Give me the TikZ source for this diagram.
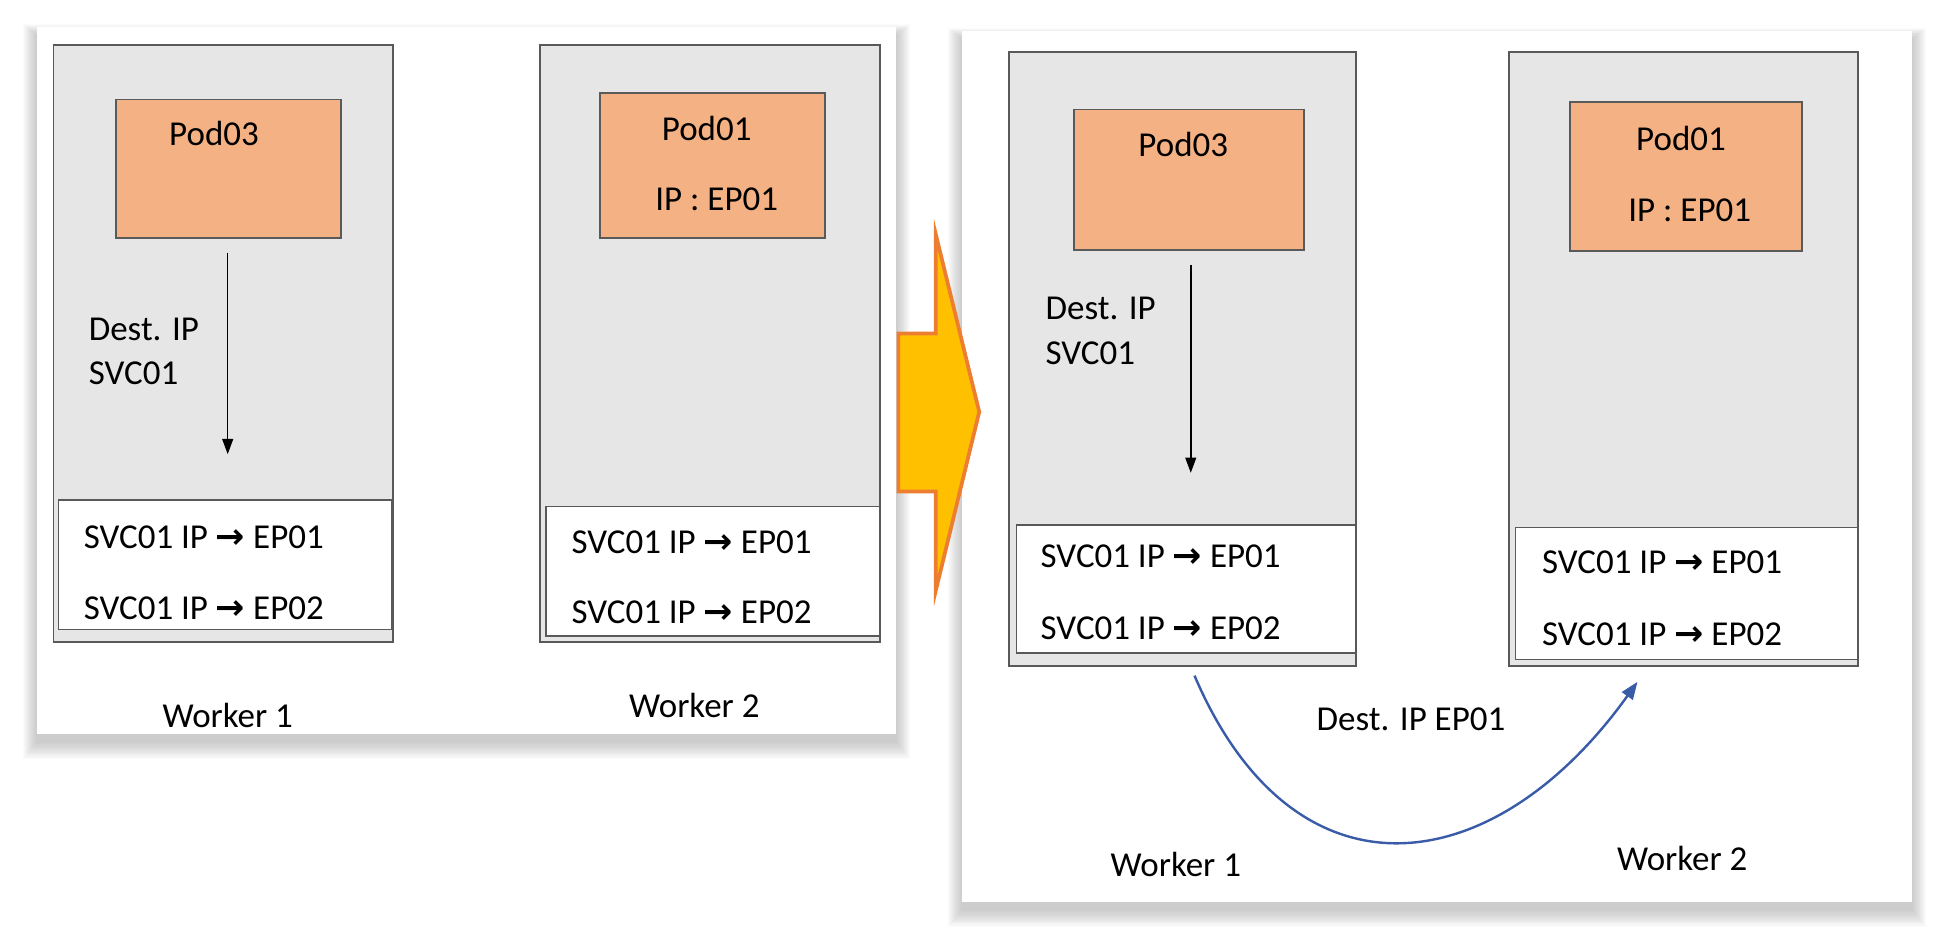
\documentclass[tikz,border=0pt]{standalone}
\usepackage{fontspec}
\setmainfont{Carlito}
\newfontfamily\arrowfont{DejaVu Sans}
\usetikzlibrary{arrows.meta,fit}
\definecolor{boxgrey}{HTML}{E6E6E6}
\definecolor{edgegrey}{HTML}{595959}
\definecolor{podfill}{HTML}{F4B183}
\definecolor{podedge}{HTML}{5A5A5A}
\definecolor{gold}{HTML}{FFC000}
\definecolor{orangeedge}{HTML}{ED7D31}
\definecolor{curveblue}{HTML}{3A5BA8}
\tikzset{
  card/.style={fill=white, draw=none, inner sep=0pt},
  worker/.style={draw=edgegrey, line width=0.8pt, fill=boxgrey, inner sep=0pt},
  pod/.style={draw=podedge, line width=0.8pt, fill=podfill, inner sep=0pt},
  table/.style={draw=edgegrey, line width=0.8pt, fill=white, inner sep=0pt},
  lbl/.style={font=\fontsize{16}{19}\selectfont, inner sep=0pt, text=black},
  lbll/.style={lbl, anchor=west},
  flow/.style={draw=black, line width=0.7pt, -{Triangle[length=7pt,width=5pt]}},
  bigarrow/.style={fill=gold, draw=orangeedge, line width=1.7pt, line join=miter},
  curve/.style={draw=curveblue, line width=1.1pt, -{Triangle[length=8pt,width=6pt]}}
}
\newcommand{\rt}[1]{SVC01 IP {\arrowfont\bfseries →} #1}
\begin{document}
\begin{tikzpicture}[x=0.02cm,y=-0.02cm]
\useasboundingbox (0,0) rectangle (1568,764);
% soft shadows of the two cards
\foreach \i in {1,...,14}{
  \fill[black,opacity=0.014] ({30-\i*0.8},{22-\i*0.6+6}) rectangle ({720+\i*0.8},{590+\i+6});
  \fill[black,opacity=0.014] ({773-\i*0.8},{25-\i*0.6+6}) rectangle ({1537+\i*0.8},{725+\i+6});
}
% ---------- left card ----------
\node[card, fit={(30,22) (720,590)}] (cardL) {};
\node[worker, fit={(43,36) (316,516)}] (Lw1) {};
\node[pod, fit={(93,80) (274,191)}] (Lpod3) {};
\node[lbl] (Lpod3t) at (172,107) {Pod03};
\coordinate (La1) at (183,203);
\coordinate (La2) at (183,365);
\draw[flow] (La1) -- (La2);
\node[lbll] (Ldest) at (71,265) {Dest. IP};
\node[lbll] (Lsvc) at (71,300) {SVC01};
\node[table, fit={(47,402) (315,506)}] (Ltab1) {};
\node[lbll] (Ltab1a) at (67,432) {\rt{EP01}};
\node[lbll] (Ltab1b) at (67,489) {\rt{EP02}};

\node[worker, fit={(434,36) (707,516)}] (Lw2) {};
\node[pod, fit={(482,75) (663,191)}] (Lpod1) {};
\node[lbl] (Lpod1t) at (568,103) {Pod01};
\node[lbl] (Lpod1ip) at (576,160) {IP : EP01};
\node[table, fit={(439,407) (707,511)}] (Ltab2) {};
\node[lbll] (Ltab2a) at (459,436) {\rt{EP01}};
\node[lbll] (Ltab2b) at (459,492) {\rt{EP02}};

\node[lbl] (Lworker1) at (183,575) {Worker 1};
\node[lbl] (Lworker2) at (558,567) {Worker 2};

% ---------- right card ----------
\node[card, fit={(773,25) (1537,725)}] (cardR) {};
\node[worker, fit={(811,42) (1090,535)}] (Rw1) {};
\node[pod, fit={(863,88) (1048,201)}] (Rpod3) {};
\node[lbl] (Rpod3t) at (951,116) {Pod03};
\coordinate (Ra1) at (957,213);
\coordinate (Ra2) at (957,380);
\draw[flow] (Ra1) -- (Ra2);
\node[lbll] (Rdest) at (840,248) {Dest. IP};
\node[lbll] (Rsvc) at (840,284) {SVC01};
\node[table, fit={(817,422) (1090,525)}] (Rtab1) {};
\node[lbll] (Rtab1a) at (836,447) {\rt{EP01}};
\node[lbll] (Rtab1b) at (836,505) {\rt{EP02}};

\node[worker, fit={(1213,42) (1493,535)}] (Rw2) {};
\node[pod, fit={(1262,82) (1448,202)}] (Rpod1) {};
\node[lbl] (Rpod1t) at (1351,111) {Pod01};
\node[lbl] (Rpod1ip) at (1358,169) {IP : EP01};
\node[table, fit={(1218,424) (1493,530)}] (Rtab2) {};
\node[lbll] (Rtab2a) at (1239,452) {\rt{EP01}};
\node[lbll] (Rtab2b) at (1239,510) {\rt{EP02}};

\coordinate (Rb1) at (960,543);
\coordinate (Rb2) at (1316,548);
\draw[curve] (Rb1) .. controls (1040,730) and (1200,710) .. (Rb2);
\node[lbl] (Rdestep) at (1134,578) {Dest. IP EP01};

\node[lbl] (Rworker1) at (945,695) {Worker 1};
\node[lbl] (Rworker2) at (1352,690) {Worker 2};

% ---------- big transition arrow ----------
\draw[bigarrow] (722,268) -- (752,268) -- (752,188) -- (787,331) -- (752,475) -- (752,395) -- (722,395) -- cycle;
\end{tikzpicture}
\end{document}
